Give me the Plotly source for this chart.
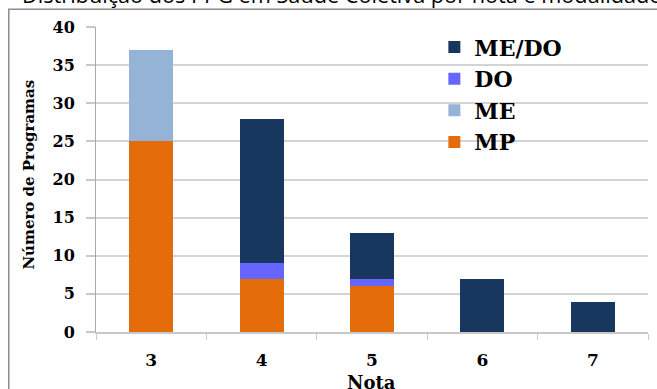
import plotly.graph_objects as go

# Programas de pós-graduação por nota e modalidade
notas = ["3", "4", "5", "6", "7"]
mp = [25, 7, 6, 0, 0]
me = [12, 0, 0, 0, 0]
do = [0, 2, 1, 0, 0]
me_do = [0, 19, 6, 7, 4]
y_ticks = [0, 5, 10, 15, 20, 25, 30, 35, 40]

series = [
    ("MP", mp, "#E46C0A"),
    ("ME", me, "#95B3D7"),
    ("DO", do, "#6666FF"),
    ("ME/DO", me_do, "#17375E"),
]

SERIF = "DejaVu Serif"
W, H = 657, 389
L, R, T, B = 95.7, 9.4, 26.7, 57.3
PW, PH = W - L - R, H - T - B


def px_x(x):
    return (x - L) / PW


def px_y(y):
    return (H - B - y) / PH


fig = go.Figure()
for name, vals, color in series:
    fig.add_trace(go.Bar(
        x=notas, y=vals, name=name,
        marker=dict(color=color, line=dict(width=0)),
    ))

fig.update_layout(
    width=W, height=H,
    margin=dict(l=L, r=R, t=T, b=B, autoexpand=False),
    barmode="stack",
    bargap=0.6,
    plot_bgcolor="white",
    paper_bgcolor="white",
    showlegend=True,
    legend=dict(
        traceorder="reversed",
        x=px_x(434), y=px_y(26), xanchor="left", yanchor="top",
        font=dict(family=SERIF, size=22, color="#000", weight="bold"),
        bgcolor="rgba(0,0,0,0)",
        itemclick=False,
    ),
    xaxis=dict(
        type="category",
        showline=True, linecolor="#c8c8c8", linewidth=1.5,
        ticks="outside", tickson="boundaries", ticklen=6, tickcolor="#c8c8c8",
        tickfont=dict(family=SERIF, size=17, color="#000", weight="bold"),
        ticklabelstandoff=12,
        showgrid=False,
    ),
    yaxis=dict(
        range=[0, 40], tickvals=y_ticks,
        showline=True, linecolor="#a8a8a8", linewidth=1,
        ticks="outside", ticklen=9, tickcolor="#c8c8c8", tickwidth=1.5,
        showgrid=True, gridcolor="#d4d4d4", gridwidth=1.5,
        zeroline=False,
        tickfont=dict(family=SERIF, size=16, color="#000", weight="bold"),
        ticklabelstandoff=8,
    ),
    annotations=[
        dict(text="Distribuição dos PPG em Saúde Coletiva por nota e modalidade",
             xref="paper", yref="paper", x=px_x(20), y=px_y(11),
             xanchor="left", yanchor="bottom", showarrow=False,
             font=dict(family="Open Sans", size=21.7, color="#000")),
        dict(text="Número de Programas", textangle=-90,
             xref="paper", yref="paper", x=px_x(29), y=px_y(174),
             xanchor="center", yanchor="middle", showarrow=False,
             font=dict(family=SERIF, size=15, color="#000", weight="bold")),
        dict(text="Nota",
             xref="paper", yref="paper", x=px_x(371.5), y=px_y(382),
             xanchor="center", yanchor="middle", showarrow=False,
             font=dict(family=SERIF, size=18, color="#000", weight="bold")),
    ],
    shapes=[
        dict(type="rect", xref="paper", yref="paper",
             x0=px_x(8.5), y0=px_y(9), x1=px_x(720), y1=px_y(440),
             line=dict(color="#8c8c8c", width=1.5), fillcolor="rgba(0,0,0,0)",
             layer="below"),
    ],
)

fig.write_html("out.html")
